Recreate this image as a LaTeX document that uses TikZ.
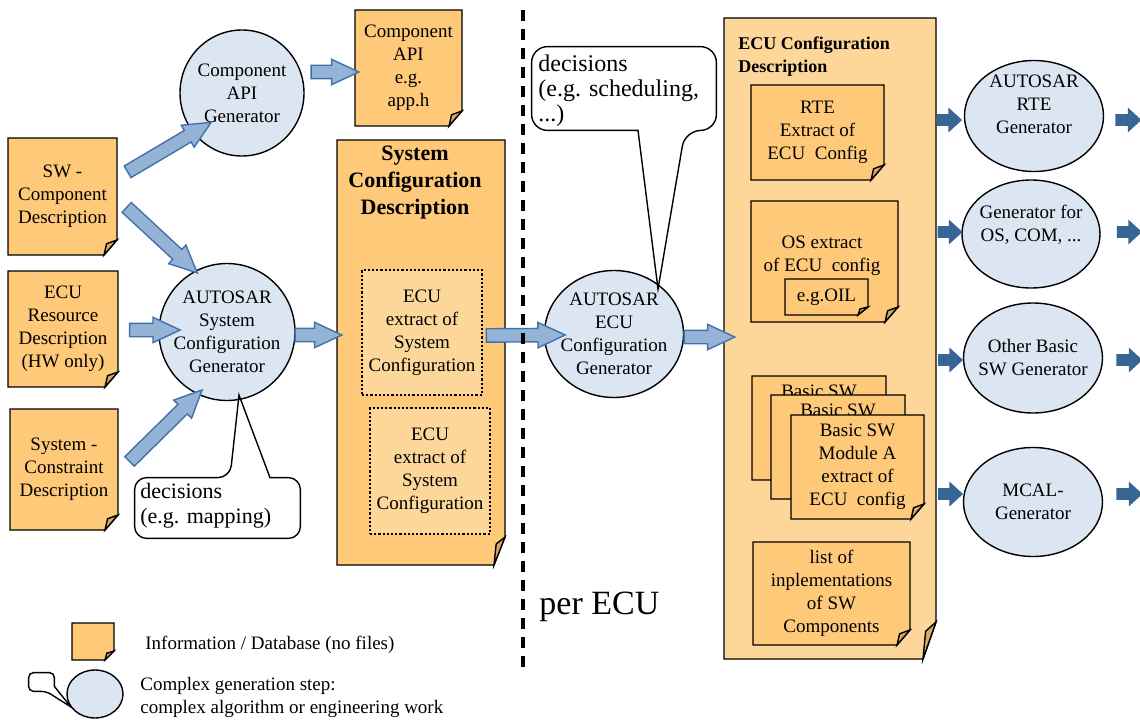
\documentclass[tikz,border=0pt]{standalone}
\usepackage{fontspec}
\setmainfont{Liberation Serif}
\usetikzlibrary{shapes.geometric, shapes.arrows, calc}

\definecolor{docfill}{RGB}{255,201,122}
\definecolor{lightdoc}{RGB}{253,214,153}
\definecolor{foldfill}{RGB}{214,170,100}
\definecolor{genfill}{RGB}{220,230,242}
\definecolor{arrowfill}{RGB}{149,179,215}
\definecolor{arrowline}{RGB}{65,113,170}
\definecolor{darkblue}{RGB}{54,101,150}

\newcommand{\docfont}{\fontsize{9.5}{11.5}\selectfont}
\def\foldx{13}
\def\foldy{15}

\tikzstyle{docline} = [draw=black, line width=0.7pt]
\tikzstyle{doctext} = [rectangle, align=center, inner sep=0pt, font=\docfont]
\tikzstyle{generator} = [ellipse, draw=black, fill=genfill, line width=0.7pt, align=center, inner sep=-8pt, font=\docfont]
\tikzstyle{extractbox} = [rectangle, draw=black, densely dotted, line width=1.1pt, fill=lightdoc, align=center, inner sep=1pt, font=\docfont]
\tikzstyle{calloutbox} = [rectangle, inner sep=0pt]
\tikzstyle{calloutline} = [draw=black, line width=0.7pt]
\tikzstyle{callouttext} = [align=left, inner sep=0pt]
\tikzstyle{legendtext} = [align=left, inner sep=0pt, font=\docfont]
\tikzstyle{lightarrow} = [single arrow, fill=arrowfill, draw=arrowline, line width=0.7pt, inner xsep=0pt, inner ysep=3pt, single arrow head extend=3pt, single arrow tip angle=50]
\tikzstyle{darkarrow} = [single arrow, fill=darkblue, inner xsep=0pt, inner ysep=2.75pt, single arrow head extend=3.25pt, single arrow tip angle=85]
\tikzstyle{divider} = [line width=2pt, dash pattern=on 5.5pt off 4pt]

% sheet with a folded corner: name, x1, y1, x2, y2, text
\newcommand{\docnote}[7][docfill]{%
  \filldraw[#1, docline] (#3,#4) -- (#5,#4) -- (#5,#6-\foldy) -- (#5-\foldx,#6) -- (#3,#6) -- cycle;
  \filldraw[foldfill, docline] (#5,#6-\foldy) -- (#5-\foldx,#6) -- (#5-0.8*\foldx,#6-0.75*\foldy) -- cycle;
  \node[doctext, minimum width={(#5-#3)*0.5pt}, minimum height={(#6-#4)*0.5pt}] (#2) at ({(#3+#5)/2},{(#4+#6)/2}) {#7};
}

% block arrow between two points
\newcommand{\fatarrow}[4][lightarrow]{%
  \path let \p1=(#3), \p2=(#4), \n1={atan2(\y2-\y1,\x2-\x1)}, \n2={veclen(\x2-\x1,\y2-\y1)} in
    node[#1, rotate=\n1, minimum height=\n2] (#2) at ({(\x1+\x2)/2},{(\y1+\y2)/2}) {};
}

\begin{document}
\begin{tikzpicture}[x=0.5pt, y=-0.5pt]
\useasboundingbox (0,0) rectangle (1140,722);

    \docnote{swc}{8}{138}{117}{255}{SW -\\Component\\Description}
    \docnote{ecures}{8}{271}{118}{387}{ECU\\Resource\\Description\\(HW only)}
    \docnote{syscon}{10}{409}{118}{530}{System -\\Constraint\\Description}
    \docnote{compapi}{355}{10}{462}{126}{Component\\API\\e.g.\\app.h}

    \node[generator, minimum width=62pt, minimum height=63pt] (apigen) at (242,93) {Component\\API\\Generator};
    \node[generator, minimum width=68pt, minimum height=68.5pt] (sysgen) at (227,332) {AUTOSAR\\System\\Configuration\\Generator};

    % system configuration
    \def\foldx{11}\def\foldy{28}
    \docnote{sysconf}{337}{140}{505}{565}{}
    \node[doctext, font=\bfseries\fontsize{11}{13.5}\selectfont] (sysconftitle) at (415,183) {System\\Configuration\\Description};
    \def\foldx{13}\def\foldy{15}
    \node[extractbox, minimum width=60pt, minimum height=62.5pt] (ext1) at (422,332.5) {ECU\\extract of\\System\\Configuration};
    \node[extractbox, minimum width=60pt, minimum height=63pt] (ext2) at (430,471) {ECU\\extract of\\System\\Configuration};

    \node[generator, minimum width=69.5pt, minimum height=63.5pt] (ecugen) at (614,334) {AUTOSAR\\ECU\\Configuration\\Generator};

    % ECU configuration
    \def\foldx{13}\def\foldy{37}
    \docnote[lightdoc]{ecuconf}{724}{18}{936}{659}{}
    \node[doctext, anchor=west, align=left, font=\bfseries\fontsize{9}{11.5}\selectfont] (ecuconftitle) at (738,56.5) {ECU Configuration\\Description};
    \def\foldx{13}\def\foldy{15}
    \docnote{rteext}{751}{85}{884}{180}{RTE\\Extract of\\ECU\ \ Config}
    \docnote{osext}{751}{201}{898}{322}{}
    \node[doctext] (ostext) at (822,256) {OS extract\\of ECU\ \ config};
    \def\foldx{10}\def\foldy{8}
    \docnote{oil}{785}{279}{868}{315}{e.g.OIL}
    \def\foldx{13}\def\foldy{15}
    \docnote{bswa}{752}{376}{886}{480}{Basic SW\\\phantom{Module A}\\\phantom{extract of}\\\phantom{ECU config}}
    \docnote{bswb}{771}{395}{905}{499}{Basic SW\\\phantom{Module A}\\\phantom{extract of}\\\phantom{ECU config}}
    \docnote{bswc}{791}{415}{924}{519}{Basic SW\\Module A\\extract of\\ECU\ \ config}
    \docnote{impl}{753}{542}{910}{645}{list of\\inplementations\\of SW\\Components}

    \node[generator, minimum width=69.5pt, minimum height=55.5pt, text depth=12pt] (rtegen) at (1034,116) {AUTOSAR\\RTE\\Generator};
    \node[generator, minimum width=69pt, minimum height=54pt, text depth=11pt] (osgen) at (1031,234) {Generator for\\OS, COM, ...};
    \node[generator, minimum width=69.5pt, minimum height=55pt] (bswgen) at (1033,358) {Other Basic\\SW Generator};
    \node[generator, minimum width=69.5pt, minimum height=54.5pt] (mcalgen) at (1033,502) {MCAL-\\Generator};

    % callouts
    \node[calloutbox, minimum width=82.5pt, minimum height=30pt] (decmap) at (217.5,508) {};
    \draw[calloutline] ($(decmap.north)+(12.5,0)$) -- ($(sysgen.-80)+(0,-5)$) -- ($(decmap.north)+(52.5,0)$) [rounded corners=6pt] -- (decmap.north east) -- (decmap.south east) -- (decmap.south west) -- (decmap.north west) -- cycle;
    \node[callouttext, font=\fontsize{11}{12.5}\selectfont, anchor=west] (decmaptext) at (140,505.5) {decisions\\(e.g. mapping)};

    \node[calloutbox, minimum width=92pt, minimum height=41.5pt] (decsched) at (624,88.5) {};
    \draw[calloutline] ($(decsched.south)+(61,0)$) -- ($(ecugen)+(44,-45)$) -- ($(decsched.south)+(14,0)$) [rounded corners=8pt] -- (decsched.south west) -- (decsched.north west) -- (decsched.north east) -- (decsched.south east) -- cycle;
    \node[callouttext, font=\fontsize{12}{12.5}\selectfont, anchor=west] (decschedtext) at (538,91) {decisions\\(e.g. scheduling,\\...)};

    % block arrows
    \fatarrow{a1}{$(swc.east)+(4,-21)$}{$(apigen)+(-37,33)$}
    \fatarrow{a2}{$(swc.east)+(4,6)$}{$(sysgen)+(-35,-64)$}
    \fatarrow{a3}{$(ecures.east)+(4,1)$}{$(sysgen)+(-54,-2)$}
    \fatarrow{a4}{$(syscon.east)+(6,-3)$}{$(sysgen)+(-30,63)$}
    \fatarrow{a5}{$(apigen)+(62,-21)$}{$(compapi.west)+(-3,4)$}
    \fatarrow{a6}{$(sysgen)+(61,3)$}{$(sysconf.west |- sysgen)+(-2,3)$}
    \fatarrow{a7}{$(ext1.east)+(-4,3)$}{$(ecugen)+(-56,1)$}
    \fatarrow{a8}{$(ecugen)+(63,3)$}{$(ecuconf.west |- ecugen)+(4,3)$}

    \fatarrow[darkarrow]{d1}{$(rtegen.west)+(-30,4)$}{$(rtegen.west)+(-5,4)$}
    \fatarrow[darkarrow]{d2}{$(rtegen.east)+(8,4)$}{$(rtegen.east)+(34,4)$}
    \fatarrow[darkarrow]{d3}{$(osgen.west)+(-27,-2)$}{$(osgen.west)+(-2,-2)$}
    \fatarrow[darkarrow]{d4}{$(osgen.east)+(13,-2)$}{$(osgen.east)+(38,-2)$}
    \fatarrow[darkarrow]{d5}{$(bswgen.west)+(-28,2)$}{$(bswgen.west)+(-3,2)$}
    \fatarrow[darkarrow]{d6}{$(bswgen.east)+(10,2)$}{$(bswgen.east)+(36,2)$}
    \fatarrow[darkarrow]{d7}{$(mcalgen.west)+(-28,-8)$}{$(mcalgen.west)+(-3,-8)$}
    \fatarrow[darkarrow]{d8}{$(mcalgen.east)+(10,-8)$}{$(mcalgen.east)+(36,-8)$}

    \draw[divider] (523,10) -- (523,668);
    \node[anchor=west, inner sep=0pt, font=\fontsize{17}{20}\selectfont] (perecu) at (539,607) {per ECU};

    % legend
    \def\foldx{9}\def\foldy{9}
    \docnote{legdoc}{72}{623}{114}{660}{}
    \node[legendtext, anchor=west] (leginfo) at (145,645) {Information / Database (no files)};
    \node[generator, minimum width=28pt, minimum height=24pt] (leggen) at (95,694) {};
    \node[calloutbox, minimum width=12.5pt, minimum height=9pt] (legcall) at (41.5,682) {};
    \draw[calloutline] ($(legcall.south east)+(-8,0)$) -- ($(leggen)+(-24,13)$) -- ($(legcall.south east)+(0,-5)$) [rounded corners=2.5pt] -- (legcall.north east) -- (legcall.north west) -- (legcall.south west) -- cycle;
    \node[legendtext, anchor=west] (legstep) at (140,697.5) {Complex generation step:\\complex algorithm or engineering work};

\end{tikzpicture}
\end{document}
